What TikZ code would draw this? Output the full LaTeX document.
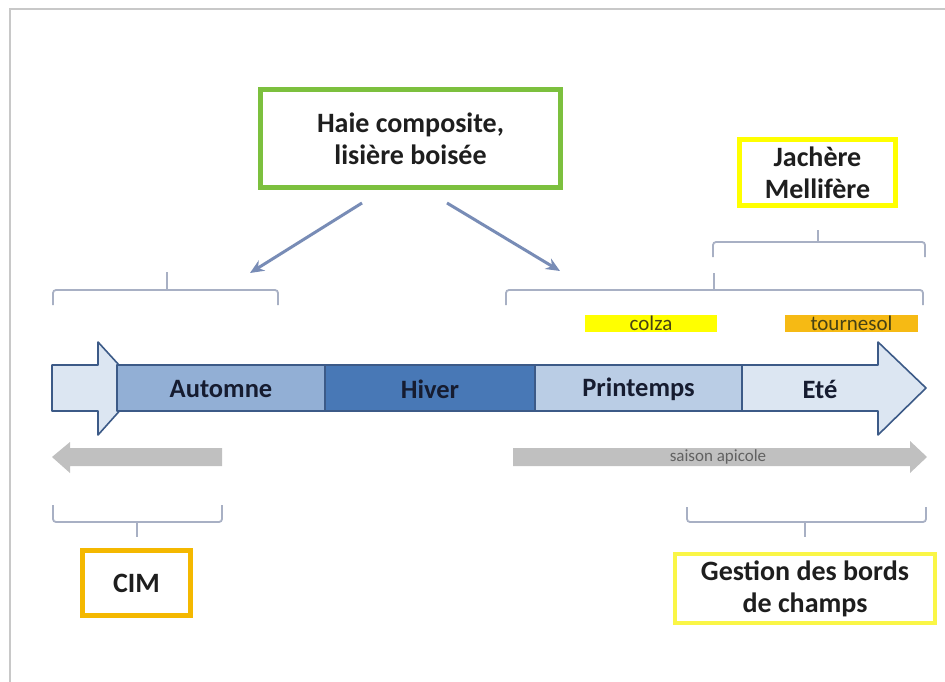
\documentclass[tikz,border=0pt]{standalone}
\usepackage{fontspec}
\setmainfont{Carlito}
\usetikzlibrary{arrows.meta}
\definecolor{frameg}{RGB}{200,200,200}
\definecolor{boxgreen}{RGB}{124,192,62}
\definecolor{boxyellow}{RGB}{255,255,0}
\definecolor{boxyellowl}{RGB}{250,246,70}
\definecolor{boxorange}{RGB}{244,184,0}
\definecolor{tourne}{RGB}{246,186,20}
\definecolor{txtdark}{RGB}{30,30,30}
\definecolor{seasontxt}{RGB}{22,28,48}
\definecolor{bord}{RGB}{60,90,135}
\definecolor{lightb}{RGB}{220,230,242}
\definecolor{midb}{RGB}{146,175,213}
\definecolor{darkb}{RGB}{72,120,182}
\definecolor{paleb}{RGB}{186,205,229}
\definecolor{grayar}{RGB}{192,192,192}
\definecolor{brk}{RGB}{168,176,196}
\definecolor{conn}{RGB}{120,140,182}
\definecolor{croptxt}{RGB}{70,66,20}
\begin{document}
\begin{tikzpicture}[x=1pt,y=-1pt,
  labelbox/.style={draw,line width=5pt,fill=white,inner sep=0pt,align=center,
    font=\fontsize{28}{32}\selectfont\bfseries,text=txtdark},
  seasonlbl/.style={font=\fontsize{26.5}{30}\selectfont\bfseries,text=seasontxt},
  segment/.style={draw=bord,line width=1.6pt,line join=round},
  grayarrow/.style={fill=grayar},
  bracketline/.style={draw=brk,line width=1.8pt,rounded corners=3pt},
  connector/.style={draw=conn,line width=3pt,-{Stealth[length=14pt,width=12pt]}},
  cropbar/.style={inner sep=0pt,minimum width=132pt,minimum height=17pt,
    font=\fontsize{21}{21}\selectfont,text=croptxt}]
\useasboundingbox (0,0) rectangle (945,682);
\fill[white] (0,0) rectangle (945,682);
% frame
\draw[frameg,line width=2pt] (10,682) -- (10,9) -- (945,9);

% boxes
\node[labelbox,draw=boxgreen,minimum width=300pt,minimum height=98pt] (haie) at (410.5,138.5) {Haie composite,\\lisière boisée};
\node[labelbox,draw=boxyellow,minimum width=156pt,minimum height=66pt] (jach) at (817.5,172.5) {Jachère\\Mellifère};
\node[labelbox,draw=boxorange,minimum width=108pt,minimum height=65pt] (cim) at (136.5,583) {CIM};
\node[labelbox,draw=boxyellowl,line width=4pt,minimum width=260pt,minimum height=69pt] (gest) at (805,588.5) {Gestion des bords\\de champs};

% connectors from the green box
\coordinate (h1) at (362,203);
\coordinate (t1) at (250,273);
\coordinate (h2) at (447,203);
\coordinate (t2) at (560,271);
\draw[connector] (h1) -- (t1);
\draw[connector] (h2) -- (t2);

% brackets
\coordinate (b1a) at (53,305); \coordinate (b1b) at (278,305);
\coordinate (b1t) at (167,272); \coordinate (b1m) at (167,290);
\draw[bracketline] (b1a) -- (53,290) -- (278,290) -- (b1b);
\draw[brk,line width=1.8pt] (b1m) -- (b1t);

\coordinate (b2a) at (506,305); \coordinate (b2b) at (923,305);
\coordinate (b2t) at (714,273); \coordinate (b2m) at (714,290);
\draw[bracketline] (b2a) -- (506,290) -- (923,290) -- (b2b);
\draw[brk,line width=1.8pt] (b2m) -- (b2t);

\coordinate (b3a) at (713,257); \coordinate (b3b) at (925,257);
\coordinate (b3t) at (818,230); \coordinate (b3m) at (818,242);
\draw[bracketline] (b3a) -- (713,242) -- (925,242) -- (b3b);
\draw[brk,line width=1.8pt] (b3m) -- (b3t);

\coordinate (b4a) at (53,505); \coordinate (b4b) at (222,505);
\coordinate (b4t) at (137,537); \coordinate (b4m) at (137,522);
\draw[bracketline] (b4a) -- (53,522) -- (222,522) -- (b4b);
\draw[brk,line width=1.8pt] (b4m) -- (b4t);

\coordinate (b5a) at (687,507); \coordinate (b5b) at (926,507);
\coordinate (b5t) at (805,537); \coordinate (b5m) at (805,522);
\draw[bracketline] (b5a) -- (687,522) -- (926,522) -- (b5b);
\draw[brk,line width=1.8pt] (b5m) -- (b5t);

% crop bars
\node[cropbar,fill=boxyellow] (colza) at (651,323.5) {colza};
\node[cropbar,fill=tourne,minimum width=133pt] (tourn) at (851.5,323.5) {tournesol};

% main seasonal arrow
\path[segment,fill=lightb] (52,365) -- (98,365) -- (98,342) -- (140,388) -- (98,435) -- (98,411) -- (52,411) -- cycle;
\path[segment,fill=midb] (117,365) rectangle (325,411);
\path[segment,fill=darkb] (325,365) rectangle (535,411);
\path[segment,fill=paleb] (535,365) rectangle (742,411);
\path[segment,fill=lightb] (742,365) -- (878,365) -- (878,342) -- (926,388) -- (878,435) -- (878,411) -- (742,411) -- cycle;
\node[seasonlbl] (aut) at (221,389) {Automne};
\node[seasonlbl] (hiv) at (430,389) {Hiver};
\node[seasonlbl] (pri) at (638.5,389) {Printemps};
\node[seasonlbl] (ete) at (820,389) {Eté};

% gray arrows
\path[grayarrow] (222,448) -- (70,448) -- (70,442) -- (52,457) -- (70,473) -- (70,466) -- (222,466) -- cycle;
\path[grayarrow] (513,448) -- (910,448) -- (910,441) -- (927,457) -- (910,473) -- (910,466) -- (513,466) -- cycle;
\node[font=\fontsize{17}{17}\selectfont,text=black!62] (api) at (718,457) {saison apicole};
\end{tikzpicture}
\end{document}
